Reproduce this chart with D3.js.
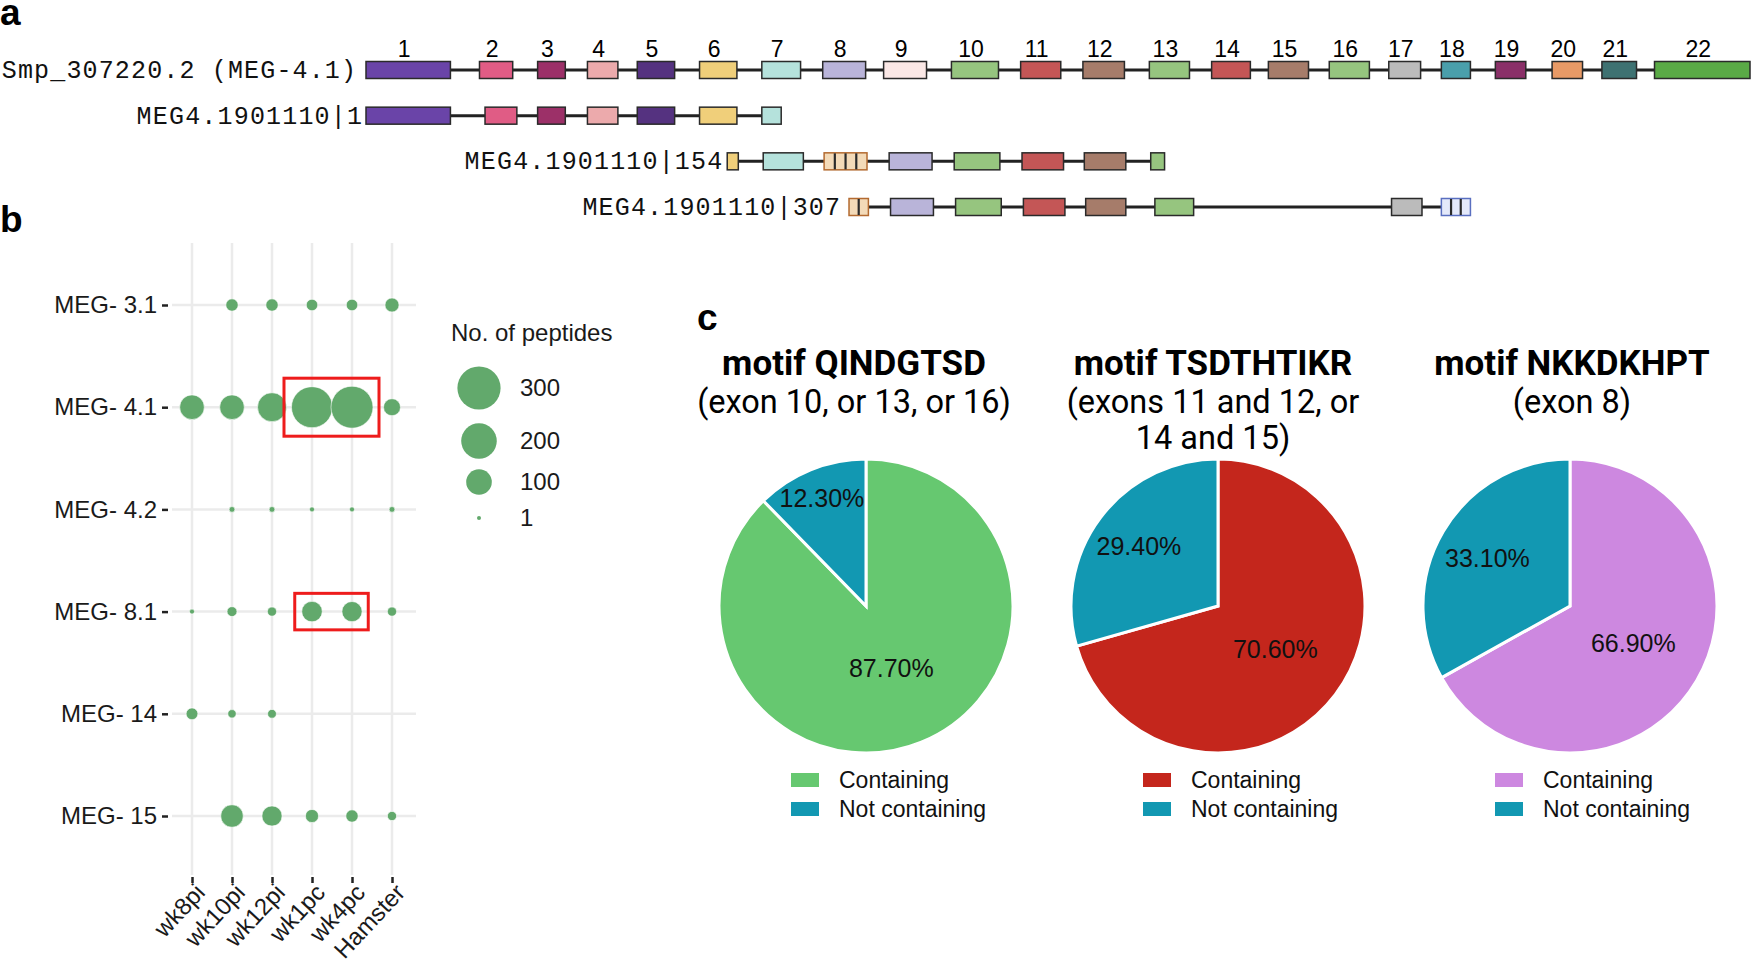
<!DOCTYPE html>
<html>
<head>
<meta charset="utf-8">
<script src="https://cdn.jsdelivr.net/npm/d3@7"></script>
<style>
  body { margin: 0; background: #fff; }
  svg { display: block; }
</style>
</head>
<body>
<div id="fig"></div>
<script>
// ---------- panel a data: exon structures ----------
const exonColors = [
    "#6a44a8", "#e05c85", "#9c3068", "#ecaaac", "#553280", "#f0cf7a", "#b5e2dc",
    "#b9b4d9", "#fbe8e6", "#96c57f", "#c45656", "#a67c6a", "#96c57f", "#c45656",
    "#a67c6a", "#96c57f", "#bbbbbb", "#4a9fab", "#8a3068", "#e89a66", "#3e7272", "#5aaa46"
];
const transcripts = ["Smp_307220.2 (MEG-4.1)", "MEG4.1901110|1", "MEG4.1901110|154", "MEG4.1901110|307"];
// [exon (colour), start, end, stripes] in relative gene units (0-1000)
// "tan" / "blue" = partial exons drawn hatched
const refExons = [
    [1, 0, 61], [2, 82, 106], [3, 124, 144], [4, 160, 182], [5, 196, 223], [6, 241, 268],
    [7, 286, 314], [8, 330, 361], [9, 374, 405], [10, 423, 457], [11, 473, 502], [12, 518, 548],
    [13, 566, 595], [14, 611, 639], [15, 652, 681], [16, 696, 725], [17, 739, 762], [18, 777, 798],
    [19, 816, 838], [20, 857, 879], [21, 893, 918], [22, 931, 1000]
];
const iso1Exons = [
    [1, 0, 61], [2, 86, 109], [3, 124, 144], [4, 160, 182], [5, 196, 223], [6, 241, 268], [7, 286, 300]
];
const iso154Exons = [
    [6, 261, 269], [7, 287, 316], ["tan", 331, 362, 3], [8, 378, 409], [10, 425, 458],
    [11, 474, 504], [12, 519, 549], [13, 567, 577]
];
const iso307Exons = [
    ["tan", 349, 363, 1], [8, 379, 410], [10, 426, 459], [11, 475, 505], [12, 520, 549],
    [13, 570, 598], [17, 741, 763], ["blue", 777, 798, 2]
];

// ---------- panel b data: peptides per MEG and stage ----------
const genes = ["MEG- 3.1", "MEG- 4.1", "MEG- 4.2", "MEG- 8.1", "MEG- 14", "MEG- 15"];
const stages = ["wk8pi", "wk10pi", "wk12pi", "wk1pc", "wk4pc", "Hamster"];
const meg31 = [0, 20, 20, 17, 17, 27];
const meg41 = [92, 92, 130, 270, 283, 41];
const meg42 = [0, 3, 3, 2, 2, 3];
const meg81 = [2, 12, 10, 62, 60, 10];
const meg14 = [18, 8, 9, 0, 0, 0];
const meg15 = [0, 76, 60, 23, 20, 10];
const legendValues = [300, 200, 100, 1];
const highlights = [["MEG- 4.1", "wk1pc", "wk4pc"], ["MEG- 8.1", "wk1pc", "wk4pc"]];

// ---------- panel c data: motif pies ----------
const motifNames = ["motif QINDGTSD", "motif TSDTHTIKR", "motif NKKDKHPT"];
const motifExons = [["(exon 10, or 13, or 16)"], ["(exons 11 and 12, or", "14 and 15)"], ["(exon 8)"]];
const containingPct = [87.7, 70.6, 66.9];
const notContainingPct = [12.3, 29.4, 33.1];
const sliceLabels = ["Containing", "Not containing"];
const containColors = ["#66c870", "#c4261c", "#cd88e0"];
const notContainColor = "#1298b2";

const svg = d3.select('#fig').append('svg')
    .attr('width', 1751)
    .attr('height', 970);

// panel letters
const letterFont = 'bold 37px "Liberation Sans", Arial, sans-serif';
[['a', 0, 25], ['b', 0, 232], ['c', 697, 330]].forEach(([t, x, y]) => {
    svg.append('text').attr('x', x).attr('y', y).style('font', letterFont).text(t);
});

// ================= panel a =================
const xExon = d3.scaleLinear().domain([0, 1000]).range([366, 1750]);
const yRow = d3.scalePoint().domain(transcripts).range([70, 207]);
const rows = [refExons, iso1Exons, iso154Exons, iso307Exons];
const labelGap = [10, 4, 5, 9];
const stripeFill = { tan: '#f3dab8', blue: '#e4e9fa' };
const stripeStroke = { tan: '#b36a30', blue: '#5a6fc0' };

const gA = svg.append('g');

// exon numbers above the reference gene
gA.selectAll('text.exnum')
    .data(refExons)
    .enter().append('text')
    .attr('class', 'exnum')
    .attr('x', d => xExon((d[1] + d[2]) / 2) - 4)
    .attr('y', 57)
    .attr('text-anchor', 'middle')
    .style('font', '23px "Liberation Sans Narrow", "Liberation Sans", sans-serif')
    .text(d => d[0]);

rows.forEach((exons, i) => {
    const y = yRow(transcripts[i]);
    const g = gA.append('g');
    g.append('line')
        .attr('x1', xExon(d3.min(exons, d => d[1])))
        .attr('x2', xExon(d3.max(exons, d => d[2])))
        .attr('y1', y).attr('y2', y)
        .attr('stroke', '#222')
        .attr('stroke-width', 3);

    const name = transcripts[i];
    g.append('text')
        .attr('x', xExon(exons[0][1]) - labelGap[i])
        .attr('y', y + 8)
        .attr('text-anchor', 'end')
        .attr('textLength', name.length * 16.1)
        .attr('lengthAdjust', 'spacing')
        .style('font', '25px "Liberation Mono", "Courier New", monospace')
        .style('fill', '#111')
        .text(name);

    const isHatched = d => typeof d[0] === 'string';
    g.selectAll('rect')
        .data(exons)
        .enter().append('rect')
        .attr('x', d => xExon(d[1]))
        .attr('width', d => xExon(d[2]) - xExon(d[1]))
        .attr('y', y - 8.5)
        .attr('height', 17)
        .attr('fill', d => isHatched(d) ? stripeFill[d[0]] : exonColors[d[0] - 1])
        .attr('stroke', d => isHatched(d) ? stripeStroke[d[0]] : '#2a2a2a')
        .attr('stroke-width', 1.5);

    // vertical stripes inside partial exons
    exons.filter(isHatched).forEach(d => {
        const x0 = xExon(d[1]), w = xExon(d[2]) - x0;
        d3.range(1, d[3] + 1).forEach(k => {
            const sx = x0 + w * k / (d[3] + 1);
            g.append('line')
                .attr('x1', sx).attr('x2', sx)
                .attr('y1', y - 8).attr('y2', y + 8)
                .attr('stroke', '#2a2a2a')
                .attr('stroke-width', 2.2);
        });
    });
});

// ================= panel b =================
const peptideRows = [meg31, meg41, meg42, meg81, meg14, meg15];
const xStage = d3.scalePoint().domain(stages).range([192, 392]);
const yGene = d3.scalePoint().domain(genes).range([305, 816]);
const rSize = d3.scaleSqrt().domain([1, 300]).range([2, 21.6]);
const dotColor = '#62a96c';
const axisFont = '24px "Liberation Sans", Arial, sans-serif';

const gB = svg.append('g');

// grid
gB.selectAll('line.hgrid')
    .data(genes)
    .enter().append('line')
    .attr('x1', 172).attr('x2', 416)
    .attr('y1', d => yGene(d)).attr('y2', d => yGene(d))
    .attr('stroke', '#ebebeb').attr('stroke-width', 2.5);
gB.selectAll('line.vgrid')
    .data(stages)
    .enter().append('line')
    .attr('x1', d => xStage(d)).attr('x2', d => xStage(d))
    .attr('y1', 243).attr('y2', 875)
    .attr('stroke', '#ebebeb').attr('stroke-width', 2.5);

// y axis
const yAxis = gB.append('g').attr('transform', 'translate(168,0)')
    .call(d3.axisLeft(yGene).tickSize(6).tickPadding(5));
yAxis.select('.domain').remove();
yAxis.selectAll('.tick line').attr('stroke', '#222').attr('stroke-width', 2.5);
yAxis.selectAll('.tick text').style('font', axisFont).attr('fill', '#1a1a1a');

// x axis
const xAxis = gB.append('g').attr('transform', 'translate(0,877)')
    .call(d3.axisBottom(xStage).tickSize(6).tickPadding(4));
xAxis.select('.domain').remove();
xAxis.selectAll('.tick line').attr('stroke', '#222').attr('stroke-width', 2.5);
xAxis.selectAll('.tick text')
    .style('font', axisFont)
    .attr('fill', '#1a1a1a')
    .attr('text-anchor', 'end')
    .attr('dy', '0.6em')
    .attr('transform', 'translate(-4,0) rotate(-47)');

// dots
const dotData = [];
peptideRows.forEach((vals, i) => {
    vals.forEach((v, j) => {
        if (v > 0) dotData.push({ gene: genes[i], stage: stages[j], value: v });
    });
});
gB.selectAll('circle.dot')
    .data(dotData)
    .enter().append('circle')
    .attr('class', 'dot')
    .attr('cx', d => xStage(d.stage))
    .attr('cy', d => yGene(d.gene))
    .attr('r', d => rSize(d.value))
    .attr('fill', dotColor)
    .attr('stroke', '#ffffff')
    .attr('stroke-width', 0.6);

// red highlight boxes
highlights.forEach(([gene, s0, s1]) => {
    const vals = peptideRows[genes.indexOf(gene)];
    const rMax = rSize(Math.max(vals[stages.indexOf(s0)], vals[stages.indexOf(s1)]));
    gB.append('rect')
        .attr('x', xStage(s0) - rMax - 7)
        .attr('y', yGene(gene) - rMax - 8)
        .attr('width', xStage(s1) - xStage(s0) + 2 * rMax + 13)
        .attr('height', 2 * rMax + 16)
        .attr('fill', 'none')
        .attr('stroke', '#ee1c1c')
        .attr('stroke-width', 3);
});

// size legend
gB.append('text')
    .attr('x', 451).attr('y', 341)
    .style('font', axisFont).attr('fill', '#1a1a1a')
    .text('No. of peptides');
const legY = d3.scaleOrdinal().domain(legendValues).range([388, 441, 482, 518]);
gB.selectAll('circle.leg')
    .data(legendValues)
    .enter().append('circle')
    .attr('cx', 479)
    .attr('cy', d => legY(d))
    .attr('r', d => rSize(d))
    .attr('fill', dotColor);
gB.selectAll('text.leg')
    .data(legendValues)
    .enter().append('text')
    .attr('x', 520)
    .attr('y', d => legY(d) + 8)
    .style('font', axisFont).attr('fill', '#1a1a1a')
    .text(d => d);

// ================= panel c =================
const xPie = d3.scalePoint().domain(motifNames).range([866, 1570]);
const xTitle = d3.scalePoint().domain(motifNames).range([854, 1572]);
const pieY = 606, pieR = 147;
const pie = d3.pie().sort(null).value(d => d.value);
const arc = d3.arc().innerRadius(0).outerRadius(pieR);
const fmt = d3.format('.2f');

motifNames.forEach((name, i) => {
    const cx = xPie(name);
    const tx = xTitle(name);
    const g = svg.append('g');

    g.append('text')
        .attr('x', tx).attr('y', 375)
        .attr('text-anchor', 'middle')
        .style('font', 'bold 35px Roboto, "Liberation Sans", sans-serif')
        .text(name);
    motifExons[i].forEach((line, k) => {
        g.append('text')
            .attr('x', tx).attr('y', 413 + k * 36)
            .attr('text-anchor', 'middle')
            .style('font', '32.5px Roboto, "Liberation Sans", sans-serif')
            .text(line);
    });

    const slices = [
        { label: sliceLabels[0], value: containingPct[i], color: containColors[i] },
        { label: sliceLabels[1], value: notContainingPct[i], color: notContainColor }
    ];
    const pg = g.append('g').attr('transform', `translate(${cx},${pieY})`);
    const arcs = pie(slices);
    pg.selectAll('path')
        .data(arcs)
        .enter().append('path')
        .attr('d', arc)
        .attr('fill', d => d.data.color)
        .attr('stroke', '#fff')
        .attr('stroke-width', 3);

    // labels: smaller slices sit further out
    pg.selectAll('text')
        .data(arcs)
        .enter().append('text')
        .attr('transform', d => {
            const f = 1 - d.data.value / 100;
            const lr = pieR * (0.45 + 0.45 * f * f);
            const c = d3.arc().innerRadius(lr).outerRadius(lr).centroid(d);
            return `translate(${c[0]},${c[1]})`;
        })
        .attr('text-anchor', 'middle')
        .attr('dy', '0.36em')
        .style('font', '25px "Liberation Sans", Arial, sans-serif')
        .attr('fill', '#111')
        .text(d => fmt(d.data.value) + '%');

    // legend
    const lg = g.append('g');
    slices.forEach((s, k) => {
        const ly = 780 + k * 29;
        lg.append('rect')
            .attr('x', cx - 75).attr('y', ly - 7)
            .attr('width', 28).attr('height', 14)
            .attr('fill', s.color);
        lg.append('text')
            .attr('x', cx - 27).attr('y', ly + 8)
            .style('font', '23px "Liberation Sans", Arial, sans-serif')
            .attr('fill', '#111')
            .text(s.label);
    });
});
</script>
</body>
</html>
